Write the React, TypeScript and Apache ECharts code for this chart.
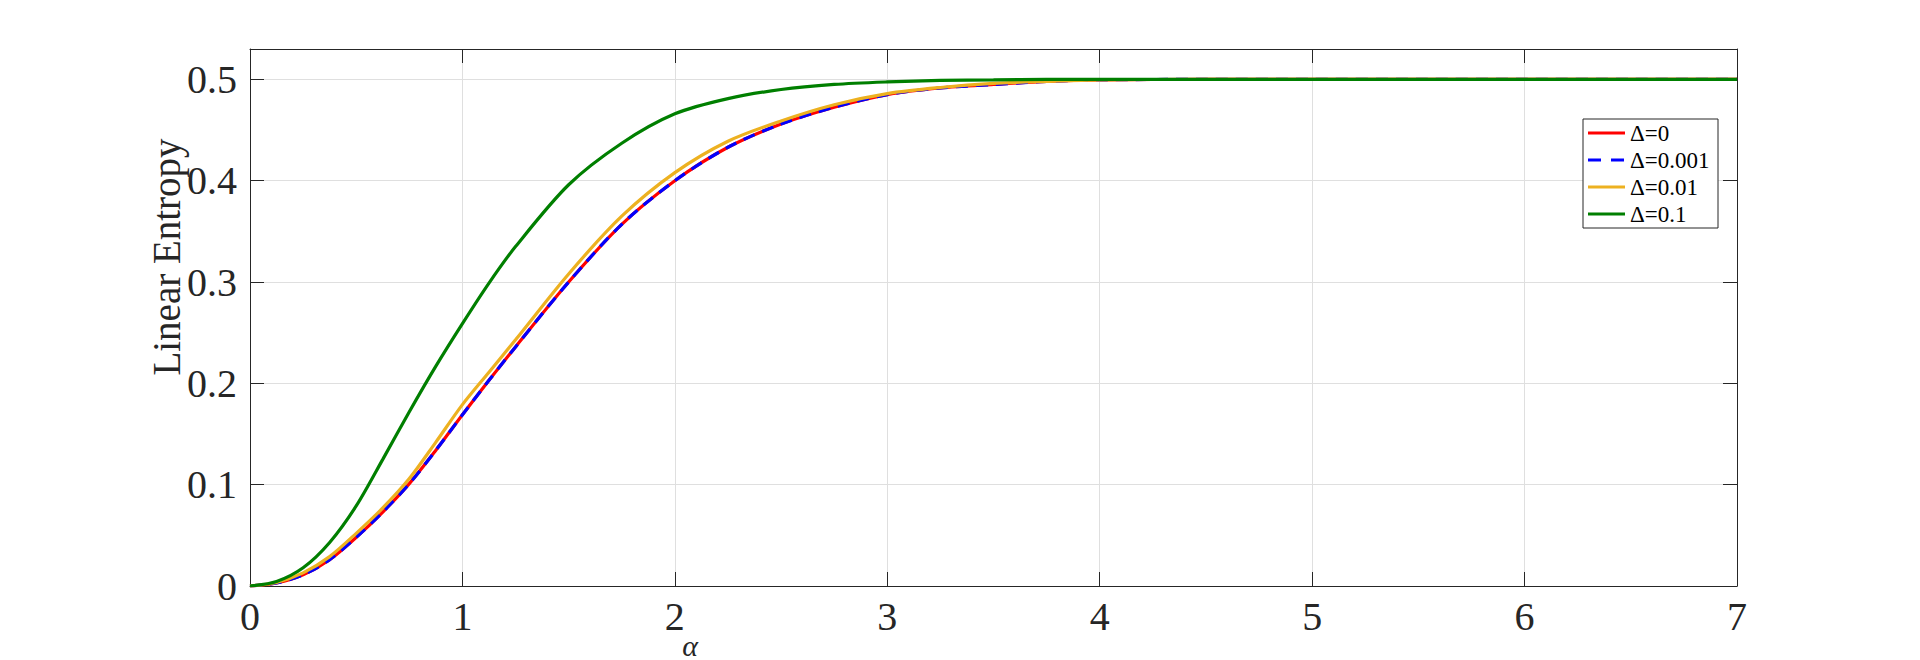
import React, { useEffect, useRef } from "react";
import * as echarts from "echarts";

const alphaValues = [0, 0.125, 0.25, 0.375, 0.5, 0.625, 0.75, 0.875, 1.0, 1.125, 1.25, 1.5, 1.75, 2.0, 2.25, 2.5, 2.75, 3.0, 3.25, 3.5, 3.75, 4.0, 4.5, 5.0, 5.5, 6.0, 6.5, 7.0];
const delta0 = [0, 0.003, 0.011, 0.026, 0.048, 0.073, 0.101, 0.134, 0.169, 0.203, 0.236, 0.300, 0.357, 0.400, 0.433, 0.456, 0.4725, 0.485, 0.4915, 0.495, 0.498, 0.4995, 0.5, 0.5, 0.5, 0.5, 0.5, 0.5];
const delta0001 = [0, 0.003, 0.011, 0.026, 0.048, 0.073, 0.101, 0.134, 0.169, 0.203, 0.236, 0.300, 0.357, 0.400, 0.433, 0.456, 0.4725, 0.485, 0.4915, 0.495, 0.498, 0.4995, 0.5, 0.5, 0.5, 0.5, 0.5, 0.5];
const delta001 = [0, 0.0035, 0.013, 0.029, 0.052, 0.077, 0.106, 0.142, 0.179, 0.211, 0.243, 0.308, 0.365, 0.408, 0.439, 0.459, 0.475, 0.486, 0.492, 0.496, 0.498, 0.4995, 0.5, 0.5, 0.5, 0.5, 0.5, 0.5];
const delta01 = [0, 0.0045, 0.018, 0.043, 0.079, 0.125, 0.172, 0.217, 0.259, 0.299, 0.335, 0.396, 0.437, 0.466, 0.481, 0.490, 0.495, 0.4975, 0.499, 0.4995, 0.5, 0.5, 0.5, 0.5, 0.5, 0.5, 0.5, 0.5];
const seriesNames = ["Δ=0", "Δ=0.001", "Δ=0.01", "Δ=0.1"];
const seriesColors = ["#ff0000", "#0000ff", "#edb120", "#007f00"];
const xTicks = [0, 1, 2, 3, 4, 5, 6, 7];
const yTicks = [0, 0.1, 0.2, 0.3, 0.4, 0.5];

const FONT = "'Liberation Serif', 'Times New Roman', serif";
const AXIS = "#262626";

export default function App() {
  const ref = useRef<HTMLDivElement>(null);
  useEffect(() => {
    if (!ref.current) return;
    const chart = echarts.init(ref.current, null, { renderer: "svg" });
    const pairs = (ys: number[]) => alphaValues.map((a, i) => [a, ys[i]]);
    const fmtY = (v: number) => {
      const r = Math.round(v * 10) / 10;
      if (Math.abs(r - v) > 1e-6) return "";
      return yTicks.some((t) => Math.abs(t - r) < 1e-6) ? (r === 0 ? "0" : r.toFixed(1)) : "";
    };
    const mk = (i: number, data: number[], dash?: number[]) => ({
      name: seriesNames[i],
      type: "line",
      data: pairs(data),
      xAxisIndex: 0,
      yAxisIndex: 0,
      smooth: 0.3,
      symbol: "none",
      showSymbol: false,
      lineStyle: { color: seriesColors[i], width: 3.2, type: dash ? dash : "solid" },
      itemStyle: { color: seriesColors[i] },
    });

    // manual legend (box + line samples + texts)
    const lgLeft = 1583;
    const lgTop = 119;
    const rowH = 27;
    const legendItems: any[] = [
      {
        type: "rect",
        shape: { x: lgLeft, y: lgTop, width: 135, height: 109 },
        style: { fill: "#ffffff", stroke: "#262626", lineWidth: 1 },
        z: 10,
      },
    ];
    seriesNames.forEach((name, i) => {
      const cy = lgTop + 14 + i * rowH;
      legendItems.push({
        type: "line",
        shape: { x1: lgLeft + 5, y1: cy, x2: lgLeft + 42, y2: cy },
        style: {
          stroke: seriesColors[i],
          lineWidth: 3.2,
          lineDash: i === 1 ? [13, 10] : null,
        },
        z: 11,
      });
      legendItems.push({
        type: "text",
        x: lgLeft + 47,
        y: cy,
        style: {
          text: name,
          fontFamily: FONT,
          fontSize: 23,
          fill: "#000000",
          align: "left",
          verticalAlign: "middle",
        },
        z: 11,
      });
    });

    chart.setOption({
      animation: false,
      backgroundColor: "#ffffff",
      grid: { left: 250, top: 49, right: 183, bottom: 74, containLabel: false },
      xAxis: [
        {
          type: "value",
          min: 0,
          max: 7,
          interval: 1,
          position: "bottom",
          axisLine: { show: true, onZero: false, lineStyle: { color: AXIS, width: 1 } },
          axisTick: { show: true, inside: true, length: 14, lineStyle: { color: AXIS } },
          axisLabel: {
            fontFamily: FONT,
            fontSize: 40,
            color: "#262626",
            margin: 10,
            formatter: (v: number) => (xTicks.includes(v) ? String(v) : ""),
          },
          splitLine: { show: true, lineStyle: { color: "#dfdfdf", width: 1 } },
        },
        {
          type: "value",
          min: 0,
          max: 7,
          interval: 1,
          position: "top",
          axisLine: { show: true, onZero: false, lineStyle: { color: AXIS, width: 1 } },
          axisTick: { show: true, inside: true, length: 14, lineStyle: { color: AXIS } },
          axisLabel: { show: false },
          splitLine: { show: false },
        },
      ],
      yAxis: [
        {
          type: "value",
          min: 0,
          max: 0.53,
          interval: 0.1,
          position: "left",
          axisLine: { show: true, onZero: false, lineStyle: { color: AXIS, width: 1 } },
          axisTick: { show: true, inside: true, length: 14, lineStyle: { color: AXIS } },
          axisLabel: { fontFamily: FONT, fontSize: 40, color: "#262626", margin: 13, formatter: fmtY },
          splitLine: { show: true, lineStyle: { color: "#dfdfdf", width: 1 } },
        },
        {
          type: "value",
          min: 0,
          max: 0.53,
          interval: 0.1,
          position: "right",
          axisLine: { show: true, onZero: false, lineStyle: { color: AXIS, width: 1 } },
          axisTick: { show: true, inside: true, length: 14, lineStyle: { color: AXIS } },
          axisLabel: { show: false },
          splitLine: { show: false },
        },
      ],
      graphic: [
        {
          type: "text",
          rotation: Math.PI / 2,
          x: 166,
          y: 257,
          style: {
            text: "Linear Entropy",
            fontFamily: FONT,
            fontSize: 39,
            fill: "#262626",
            align: "center",
            verticalAlign: "middle",
          },
        },
        {
          type: "text",
          x: 690,
          y: 645,
          style: {
            text: "α",
            fontFamily: FONT,
            fontStyle: "italic",
            fontSize: 30,
            fill: "#262626",
            align: "center",
            verticalAlign: "middle",
          },
        },
        ...legendItems,
      ],
      series: [
        mk(0, delta0),
        mk(1, delta0001, [12, 8]),
        mk(2, delta001),
        mk(3, delta01),
      ],
    });
    return () => chart.dispose();
  }, []);
  return (
    <div
      ref={ref}
      style={{ position: "absolute", left: 0, top: 0, width: 1920, height: 660 }}
    />
  );
}
